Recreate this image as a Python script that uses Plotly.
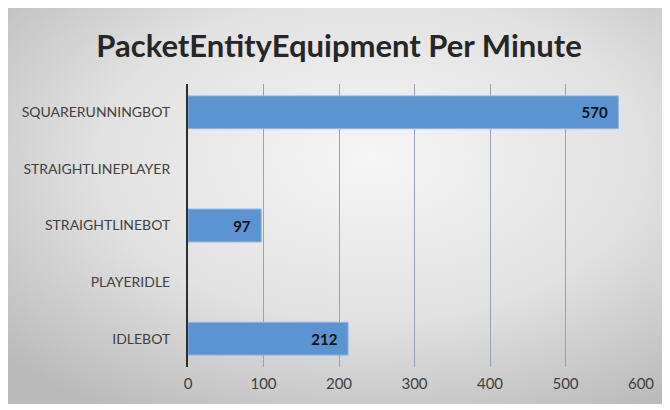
import base64
import plotly.graph_objects as go

categories = ["SQUARERUNNINGBOT", "STRAIGHTLINEPLAYER", "STRAIGHTLINEBOT", "PLAYERIDLE", "IDLEBOT"]
values = [570, None, 97, None, 212]
x_ticks = [0, 100, 200, 300, 400, 500, 600]

labels = [("<b>%d</b>\u00a0\u00a0" % v) if v is not None else "" for v in values]

svg = """<svg xmlns='http://www.w3.org/2000/svg' width='660' height='396' viewBox='0 0 660 396' preserveAspectRatio='none'>
<defs><radialGradient id='g' cx='0.55' cy='0.38' r='0.75'>
<stop offset='0' stop-color='#f6f6f6'/><stop offset='0.55' stop-color='#e1e1e1'/><stop offset='1' stop-color='#bababa'/>
</radialGradient></defs>
<rect width='660' height='396' fill='url(#g)'/></svg>"""
bg_uri = "data:image/svg+xml;base64," + base64.b64encode(svg.encode()).decode()

W, H = 662, 402
L, R, T, B = 180, 29, 76, 43
pw, ph = W - L - R, H - T - B

fig = go.Figure()
fig.add_trace(go.Bar(
    y=categories, x=values, orientation="h",
    marker=dict(color="#5b94d1", line=dict(color="#8fb6e0", width=1)),
    width=0.58,
    text=labels, textposition="inside", insidetextanchor="end",
    textfont=dict(family="Lato, Open Sans, sans-serif", size=15, color="#111111"),
    hoverinfo="skip",
))

fig.update_layout(
    width=W, height=H,
    margin=dict(l=L, r=R, t=T, b=B),
    paper_bgcolor="white",
    plot_bgcolor="rgba(0,0,0,0)",
    showlegend=False,
    title=dict(text="<b>PacketEntityEquipment Per Minute</b>", x=0.5, xref="container", xanchor="center",
               y=1 - 38 / H, yref="container", yanchor="middle",
               font=dict(family="Lato, Open Sans, sans-serif", size=31, color="#262626")),
    font=dict(family="Lato, Open Sans, sans-serif", color="#404040"),
    images=[dict(source=bg_uri, xref="paper", yref="paper",
                 x=(0 - L) / pw, y=(H - B - 0) / ph,
                 sizex=660 / pw, sizey=396 / ph,
                 sizing="stretch", xanchor="left", yanchor="top", layer="below")],
)
fig.update_xaxes(range=[0, 600], tickvals=x_ticks, ticks="", showgrid=True,
                 gridcolor="#97a3ae", gridwidth=1, zeroline=False, showline=False,
                 tickfont=dict(size=15, color="#404040"), ticklabelstandoff=6)
fig.update_yaxes(autorange="reversed", showline=True, linecolor="#2b2f33", linewidth=2,
                 ticks="", tickfont=dict(size=14, color="#404040"), ticklabelstandoff=13,
                 showgrid=False)

fig.write_html("out.html")
